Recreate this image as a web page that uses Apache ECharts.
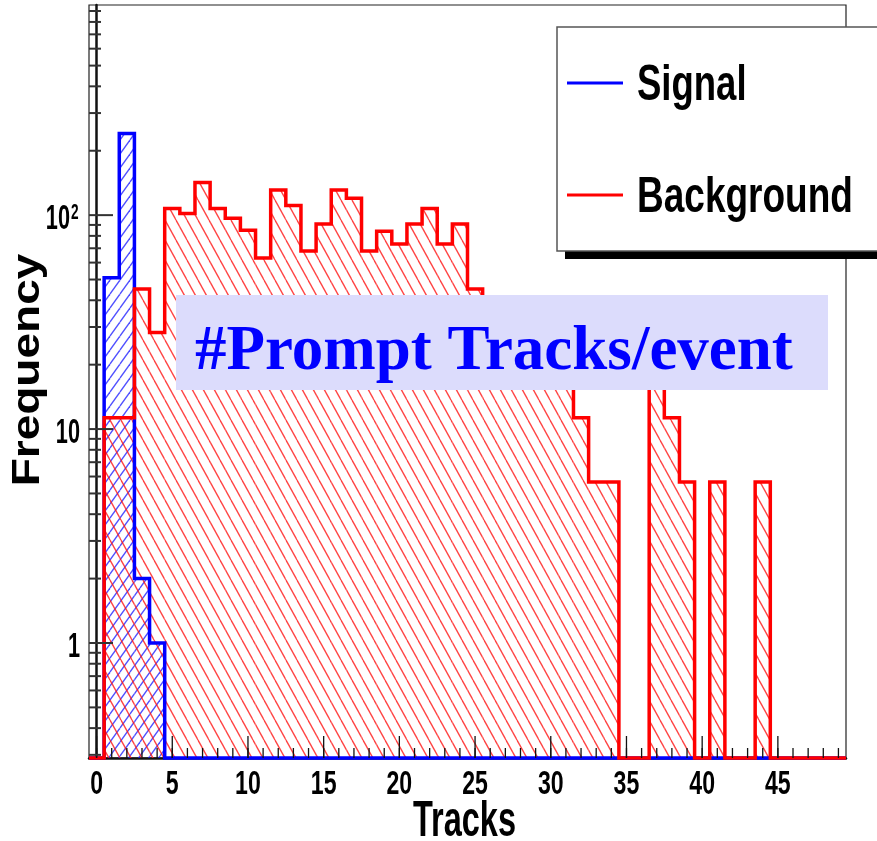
<!DOCTYPE html>
<html>
<head>
<meta charset="utf-8">
<script src="https://cdn.jsdelivr.net/npm/echarts@6/dist/echarts.min.js"></script>
<style>
html,body{margin:0;padding:0;background:#fff;}
#chart{width:877px;height:841px;}
</style>
</head>
<body>
<div id="chart"></div>
<script>
// ---- data ----
const tracks = [0,1,2,3,4,5,6,7,8,9,10,11,12,13,14,15,16,17,18,19,20,21,22,23,24,25,26,27,28,29,30,31,32,33,34,35,36,37,38,39,40,41,42,43,44,45,46,47,48,49];
const signal = [0,51,241,2,1,0,0,0,0,0,0,0,0,0,0,0,0,0,0,0,0,0,0,0,0,0,0,0,0,0,0,0,0,0,0,0,0,0,0,0,0,0,0,0,0,0,0,0,0,0];
const background = [0,11.3,11.3,45.2,28.3,107.4,101.7,142,107.4,96.8,85,63,131,111,68,90.8,131,120,68,84,73.2,90.8,107.4,73.2,90.8,45.2,39.6,33.9,28.3,22.6,22.6,17,11.3,5.65,5.65,0,0,17,11.3,5.65,0,5.65,0,0,5.65,0,0,0,0,0];
const xMajorTicks = [0,5,10,15,20,25,30,35,40,45];
const xMinorTicks = [0,1,2,3,4,5,6,7,8,9,10,11,12,13,14,15,16,17,18,19,20,21,22,23,24,25,26,27,28,29,30,31,32,33,34,35,36,37,38,39,40,41,42,43,44,45,46,47,48,49];
const yMajorTicks = [1,10,100];
const yMinorTicks = [0.3,0.4,0.5,0.6,0.7,0.8,0.9,2,3,4,5,6,7,8,9,20,30,40,50,60,70,80,90,200,300,400,500,600,700,800,900];
const yLabels = ['1','10','10'];
const ySup = ['','','2'];
const xTitle = 'Tracks';
const yTitle = 'Frequency';
const legendNames = ['Signal','Background'];
const annotation = '#Prompt Tracks/event';

const X_MIN = -0.5, X_MAX = 49.5, Y_MIN = 0.29, Y_MAX = 960;

function hatch(color, dir, w, h, lw) {
  const c = document.createElement('canvas');
  c.width = w; c.height = h;
  const ctx = c.getContext('2d');
  ctx.strokeStyle = color; ctx.lineWidth = lw;
  for (const off of [-w, 0, w]) {
    ctx.beginPath();
    if (dir === 'back') { ctx.moveTo(off, 0); ctx.lineTo(off + w, h); }
    else { ctx.moveTo(off, h); ctx.lineTo(off + w, 0); }
    ctx.stroke();
  }
  return c;
}
const redHatch = hatch('rgba(255,20,20,0.8)', 'back', 11, 20, 1.35);
const blueHatch = hatch('rgba(20,20,255,0.75)', 'fwd', 10, 14, 1.35);

function histSeries(name, values, color, pattern, zLine) {
  return {
    type: 'custom', name: name,
    coordinateSystem: 'cartesian2d',
    data: tracks.map((t, i) => [t, values[i] > 0 ? values[i] : Y_MIN]),
    encode: { x: 0, y: 1 },
    clip: false,
    z: 2,
    renderItem: function (params, api) {
      const i = params.dataIndex;
      const x = api.value(0);
      const cl = u => (u > 0 ? u : Y_MIN);
      const v = values[i];
      const l = api.coord([x - 0.5, Y_MIN]);
      const r = api.coord([x + 0.5, Y_MIN]);
      const top = api.coord([x, cl(v)])[1];
      const bottom = l[1];
      const children = [];
      if (v > 0) {
        children.push({
          type: 'rect', z2: 1,
          shape: { x: l[0], y: top, width: r[0] - l[0], height: bottom - top },
          style: { fill: { image: pattern, repeat: 'repeat' }, stroke: null }
        });
      }
      if (i === 0) {
        // whole outline as one step polyline, through the same scales
        const raw = [];
        for (let k = 0; k < values.length; k++) {
          const lk = api.coord([tracks[k] - 0.5, cl(values[k])]);
          const rk = api.coord([tracks[k] + 0.5, cl(values[k])]);
          raw.push(lk, rk);
        }
        const pts = [];
        raw.forEach(p => {
          const last = pts[pts.length - 1];
          if (!last || Math.abs(last[0] - p[0]) > 0.01 || Math.abs(last[1] - p[1]) > 0.01) pts.push(p);
        });
        children.push({
          type: 'polyline', z2: zLine,
          shape: { points: pts },
          style: { stroke: color, lineWidth: 3.5, fill: null, lineCap: 'butt', lineJoin: 'miter' }
        });
      }
      return { type: 'group', children: children };
    }
  };
}

function xTickSeries(vals, len) {
  return {
    type: 'custom', coordinateSystem: 'cartesian2d', z: 10, clip: false,
    data: vals.map(v => [v, Y_MIN]), encode: { x: 0, y: 1 },
    renderItem: function (params, api) {
      const p = api.coord([api.value(0), Y_MIN]);
      return { type: 'line', shape: { x1: p[0], y1: p[1], x2: p[0], y2: p[1] - len },
        style: { stroke: '#111', lineWidth: 1.3 } };
    }
  };
}
function yTickSeries(vals, len) {
  return {
    type: 'custom', coordinateSystem: 'cartesian2d', z: 10, clip: false,
    data: vals.map(v => [X_MIN, v]), encode: { x: 0, y: 1 },
    renderItem: function (params, api) {
      const p = api.coord([X_MIN, api.value(1)]);
      return { type: 'line', shape: { x1: p[0], y1: p[1], x2: p[0] + len, y2: p[1] },
        style: { stroke: '#333', lineWidth: 2 } };
    }
  };
}

const chart = echarts.init(document.getElementById('chart'), null, { renderer: 'canvas' });
chart.setOption({
  animation: false,
  backgroundColor: '#fff',
  grid: { left: 89, top: 5, right: 31, bottom: 83, show: true, borderColor: '#222', borderWidth: 1.2, backgroundColor: 'transparent' },
  xAxis: {
    type: 'value', min: X_MIN, max: X_MAX,
    axisLine: { show: true, onZero: false, lineStyle: { color: '#111', width: 2.5 } },
    axisTick: { show: false }, axisLabel: { show: false }, splitLine: { show: false }
  },
  yAxis: {
    type: 'log', logBase: 10, min: Y_MIN, max: Y_MAX,
    axisLine: { show: true, lineStyle: { color: '#111', width: 2.5 } },
    axisTick: { show: false }, axisLabel: { show: false }, splitLine: { show: false }
  },
  series: [
    histSeries('Signal', signal, '#0000ff', blueHatch, 5),
    histSeries('Background', background, '#ff0000', redHatch, 6),
    xTickSeries(xMinorTicks, 10),
    xTickSeries(xMajorTicks, 22),
    yTickSeries(yMinorTicks, 12),
    yTickSeries(yMajorTicks, 24),
    {
      type: 'custom', coordinateSystem: 'cartesian2d', z: 10, clip: false,
      data: xMajorTicks.map(v => [v, Y_MIN]), encode: { x: 0, y: 1 },
      renderItem: function (params, api) {
        const p = api.coord([api.value(0), Y_MIN]);
        return { type: 'text', x: p[0], y: p[1] + 27, scaleX: 0.7,
          style: { text: String(xMajorTicks[params.dataIndex]), font: 'bold 33px "Liberation Sans", Arial, sans-serif',
            fill: '#000', align: 'center', verticalAlign: 'middle', textAlign: 'center', textVerticalAlign: 'middle' } };
      }
    },
    {
      type: 'custom', coordinateSystem: 'cartesian2d', z: 10, clip: false,
      data: yMajorTicks.map(v => [X_MIN, v]), encode: { x: 0, y: 1 },
      renderItem: function (params, api) {
        const i = params.dataIndex;
        const p = api.coord([X_MIN, api.value(1)]);
        const hasSup = ySup[i] !== '';
        const children = [{
          type: 'text', x: p[0] - (hasSup ? 19 : 9), y: p[1] + 4, scaleX: 0.62,
          style: { text: yLabels[i], font: 'bold 35px "Liberation Sans", Arial, sans-serif', fill: '#000',
            align: 'right', verticalAlign: 'middle', textAlign: 'right', textVerticalAlign: 'middle' }
        }];
        if (hasSup) children.push({
          type: 'text', x: p[0] - 18, y: p[1] - 2, scaleX: 0.62,
          style: { text: ySup[i], font: 'bold 22px "Liberation Sans", Arial, sans-serif', fill: '#000',
            align: 'left', verticalAlign: 'middle', textAlign: 'left', textVerticalAlign: 'middle' }
        });
        return { type: 'group', children: children };
      }
    }
  ],
  graphic: [
    { type: 'text', x: 413, y: 822, scaleX: 0.65, z: 50,
      style: { text: xTitle, font: 'bold 50px "Liberation Sans", Arial, sans-serif', fill: '#000',
        align: 'left', verticalAlign: 'middle', textAlign: 'left', textVerticalAlign: 'middle' } },
    { type: 'text', x: 28, y: 370, rotation: Math.PI / 2, scaleY: 0.85, z: 50,
      style: { text: yTitle, font: 'bold 46px "Liberation Sans", Arial, sans-serif', fill: '#000',
        align: 'center', verticalAlign: 'middle', textAlign: 'center', textVerticalAlign: 'middle' } },
    // legend
    { type: 'rect', z: 60, shape: { x: 565, y: 35, width: 340, height: 224 }, style: { fill: '#000' } },
    { type: 'rect', z: 61, shape: { x: 557, y: 27, width: 340, height: 224 }, style: { fill: '#fff', stroke: '#555', lineWidth: 1.5 } },
    { type: 'line', z: 62, shape: { x1: 567, y1: 83, x2: 623, y2: 83 }, style: { stroke: '#0000ff', lineWidth: 3 } },
    { type: 'line', z: 62, shape: { x1: 567, y1: 195, x2: 623, y2: 195 }, style: { stroke: '#ff0000', lineWidth: 3 } },
    { type: 'text', z: 62, x: 637, y: 86, scaleX: 0.73,
      style: { text: legendNames[0], font: 'bold 50px "Liberation Sans", Arial, sans-serif', fill: '#000',
        align: 'left', verticalAlign: 'middle', textAlign: 'left', textVerticalAlign: 'middle' } },
    { type: 'text', z: 62, x: 637, y: 198, scaleX: 0.74,
      style: { text: legendNames[1], font: 'bold 50px "Liberation Sans", Arial, sans-serif', fill: '#000',
        align: 'left', verticalAlign: 'middle', textAlign: 'left', textVerticalAlign: 'middle' } },
    // annotation
    { type: 'rect', z: 70, shape: { x: 176, y: 295, width: 652, height: 95 }, style: { fill: '#dcdcfc' } },
    { type: 'text', z: 71, x: 195, y: 353,
      style: { text: annotation, font: 'bold 63px "Liberation Serif", "Times New Roman", serif', fill: '#0000ff',
        align: 'left', verticalAlign: 'middle', textAlign: 'left', textVerticalAlign: 'middle' } }
  ]
});
</script>
</body>
</html>
